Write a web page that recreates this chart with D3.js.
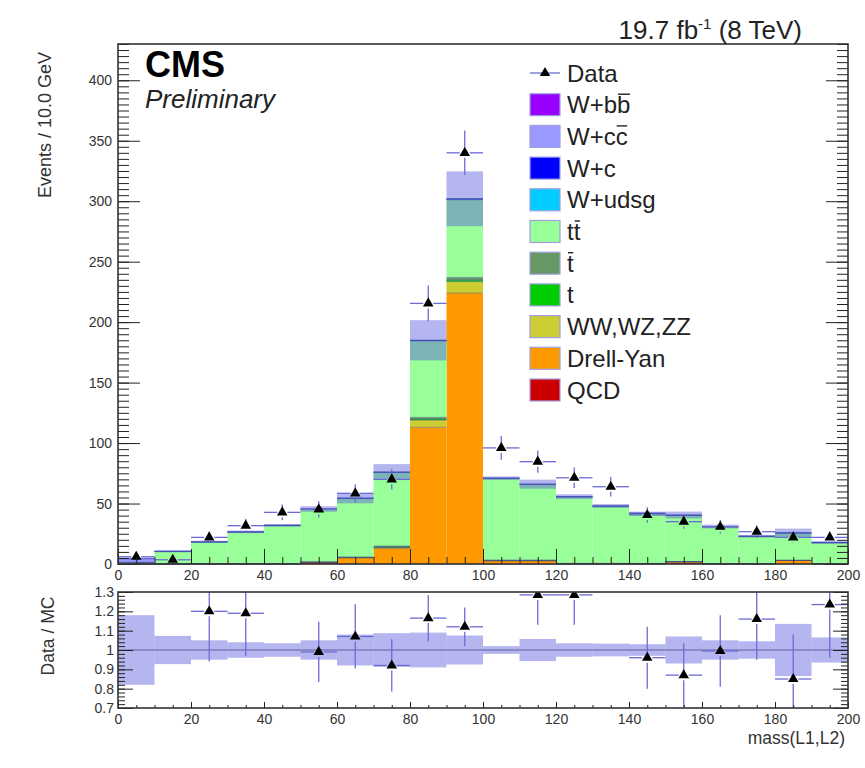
<!DOCTYPE html>
<html>
<head>
<meta charset="utf-8">
<script src="https://cdn.jsdelivr.net/npm/d3@7"></script>
<style>
  body { margin: 0; background: #fff; }
  svg { display: block; font-family: "Liberation Sans", Arial, Helvetica, sans-serif; }
</style>
</head>
<body>
<svg id="chart" width="865" height="768"></svg>
<script>
// ---- binning: mass(L1,L2), 10 GeV bins from 0 to 200 ----
const binLow = [0, 10, 20, 30, 40, 50, 60, 70, 80, 90, 100, 110, 120, 130, 140, 150, 160, 170, 180, 190];
const binWidth = 10;

// ---- observed events and their errors ----
const dataCounts = [6, 3.5, 22, 31.7, 42.7, 45.2, 58.4, 70, 215.5, 340, 96, 84.6, 71.3, 63.9, 40.5, 35, 30.8, 26.7, 22, 22];
const dataErr    = [2.4, 1.9, 4.7, 5.6, 6.5, 6.7, 7.6, 8.4, 14.7, 18.4, 9.8, 9.2, 8.4, 8.0, 6.4, 5.9, 5.5, 5.2, 4.7, 4.7];

// ---- simulated backgrounds (stacked bottom to top) ----
const qcd        = [0, 0, 0, 0, 0, 0.8, 0, 0, 0, 0, 0, 0, 0, 0, 0, 1.0, 0, 0, 0, 0];
const drellYan   = [0, 0, 0, 0, 0, 0.8, 5, 13, 113, 224, 2.5, 2.5, 0, 0, 0, 1.0, 0, 0, 3, 0];
const diboson    = [0, 0, 0, 0, 0, 0, 0.3, 0.5, 6, 9.5, 0.2, 0.2, 0, 0, 0, 0, 0, 0, 0, 0];
const singleTop  = [0, 0, 0, 0, 0, 0, 0.2, 0.4, 0.8, 1.2, 0.2, 0.2, 0.2, 0.2, 0.2, 0, 0, 0, 0, 0];
const singleTbar = [0, 0, 0, 0, 0, 0, 0.4, 1.0, 1.5, 2.3, 0.5, 0.5, 0.4, 0.4, 0.3, 0, 0, 0, 0, 0];
const ttbar      = [1.3, 10.2, 18.0, 26.2, 31.6, 43.5, 48.2, 60.7, 63.0, 64.1, 67.2, 62.2, 54.7, 47.0, 41.1, 38.1, 30.6, 22.6, 22.4, 17.4];
const wUdsg      = [0, 0.3, 0.3, 0.3, 0.3, 0.3, 0.3, 0.3, 0.5, 0.6, 0.3, 0.3, 0.3, 0.3, 0.3, 0.3, 0.3, 0.3, 0.3, 0.3];
const wC         = [0, 0, 0, 0.1, 0.1, 0.1, 0.1, 0.1, 0.2, 0.3, 0.1, 0.1, 0.1, 0.1, 0.1, 0.1, 0.1, 0.1, 0.1, 0.1];
const wCCbar     = [3.2, 0, 0, 0, 0, 0, 0, 0, 0, 0, 0, 0, 0, 0, 0, 0, 0, 0, 0, 0];
const wBBbar     = [0, 0, 0, 0, 0, 0, 0, 0, 0, 0, 0, 0, 0, 0, 0, 0, 0, 0, 0, 0];

// relative uncertainty of the summed simulation, per bin
const mcRelErr = [0.18, 0.073, 0.05, 0.04, 0.035, 0.05, 0.08, 0.087, 0.09, 0.075, 0.02, 0.057, 0.035, 0.033, 0.03, 0.07, 0.05, 0.045, 0.135, 0.065];

// ---- Data / MC ratio ----
const ratioVals = [1.33, 0.33, 1.20, 1.19, 1.33, 0.99, 1.07, 0.92, 1.165, 1.12, 1.35, 1.285, 1.285, 1.33, 0.96, 0.87, 0.995, 1.16, 0.85, 1.235];
const ratioErr  = [0.54, 0.18, 0.26, 0.22, 0.2, 0.156, 0.166, 0.135, 0.12, 0.1, 0.14, 0.155, 0.155, 0.17, 0.16, 0.165, 0.185, 0.21, 0.23, 0.275];

// ---- axis ticks ----
const xTicks = [0, 20, 40, 60, 80, 100, 120, 140, 160, 180, 200];
const yTicks = [0, 50, 100, 150, 200, 250, 300, 350, 400];
const ratioTicks = [0.7, 0.8, 0.9, 1.0, 1.1, 1.2, 1.3];
const ratioTickLabels = ["0.7", "0.8", "0.9", "1", "1.1", "1.2", "1.3"];

// ---- stack definition (bottom first) ----
const stackDefs = [
  { key: "QCD",        values: qcd,        color: "#cc0000", label: [{ t: "QCD" }] },
  { key: "Drell-Yan",  values: drellYan,   color: "#ff9900", label: [{ t: "Drell-Yan" }] },
  { key: "WW,WZ,ZZ",   values: diboson,    color: "#cccc33", label: [{ t: "WW,WZ,ZZ" }] },
  { key: "t",          values: singleTop,  color: "#00cc00", label: [{ t: "t" }] },
  { key: "tbar",       values: singleTbar, color: "#669966", label: [{ t: "t", bar: true }] },
  { key: "ttbar",      values: ttbar,      color: "#99ff99", label: [{ t: "t" }, { t: "t", bar: true }] },
  { key: "W+udsg",     values: wUdsg,      color: "#00ccff", label: [{ t: "W+udsg" }] },
  { key: "W+c",        values: wC,         color: "#0000ff", label: [{ t: "W+c" }] },
  { key: "W+ccbar",    values: wCCbar,     color: "#9999ff", label: [{ t: "W+c" }, { t: "c", bar: true }] },
  { key: "W+bbbar",    values: wBBbar,     color: "#9900ff", label: [{ t: "W+b" }, { t: "b", bar: true }] }
];

const bandFill = "rgba(90,90,220,0.45)";
const errColor = "#6b6bd6";

const svg = d3.select("#chart");
svg.append("rect").attr("width", 865).attr("height", 768).attr("fill", "#fff");

// ---- scales ----
const x = d3.scaleLinear().domain([0, 200]).range([118, 848]);
const y = d3.scaleLinear().domain([0, 430]).range([564, 44]);
const yr = d3.scaleLinear().domain([0.7, 1.3]).range([708, 592]);

// ---- stacked histogram ----
const rows = binLow.map((lo, i) => {
  const r = { lo };
  stackDefs.forEach(s => r[s.key] = s.values[i]);
  return r;
});
const stacked = d3.stack().keys(stackDefs.map(s => s.key))(rows);
const mcTotal = binLow.map((_, i) => d3.sum(stackDefs, s => s.values[i]));

const gMain = svg.append("g");
stacked.forEach((layer, k) => {
  gMain.append("g").selectAll("rect").data(layer).join("rect")
    .attr("x", d => x(d.data.lo))
    .attr("width", x(binWidth) - x(0))
    .attr("y", d => y(d[1]))
    .attr("height", d => Math.max(0, y(d[0]) - y(d[1])))
    .attr("fill", stackDefs[k].color);
});
// histogram outlines
stacked.forEach(layer => {
  gMain.append("g").selectAll("line").data(layer).join("line")
    .attr("x1", d => x(d.data.lo)).attr("x2", d => x(d.data.lo + binWidth))
    .attr("y1", d => y(d[1])).attr("y2", d => y(d[1]))
    .attr("stroke", "#1f2a80").attr("stroke-opacity", 0.35).attr("stroke-width", 1);
});

// simulation uncertainty band
gMain.append("g").selectAll("rect").data(binLow).join("rect")
  .attr("x", d => x(d)).attr("width", x(binWidth) - x(0))
  .attr("y", (d, i) => y(mcTotal[i] * (1 + mcRelErr[i])))
  .attr("height", (d, i) => y(mcTotal[i] * (1 - mcRelErr[i])) - y(mcTotal[i] * (1 + mcRelErr[i])))
  .attr("fill", bandFill);

// data points with error bars
const tri = d3.symbol().type(d3.symbolTriangle).size(48);
function drawPoints(g, vals, errs, yScale, lo, hi) {
  binLow.forEach((b, i) => {
    const v = vals[i];
    if (v < lo || v > hi) return;
    const cx = x(b + binWidth / 2), cy = yScale(v);
    const eb = g.append("g").attr("stroke", errColor).attr("stroke-width", 1.3);
    eb.append("line").attr("x1", x(b)).attr("x2", cx - 5).attr("y1", cy).attr("y2", cy);
    eb.append("line").attr("x1", cx + 5).attr("x2", x(b + binWidth)).attr("y1", cy).attr("y2", cy);
    eb.append("line").attr("x1", cx).attr("x2", cx).attr("y1", yScale(v + errs[i])).attr("y2", cy - 5);
    eb.append("line").attr("x1", cx).attr("x2", cx).attr("y1", cy + 5).attr("y2", yScale(v - errs[i]));
    g.append("path").attr("d", tri).attr("transform", `translate(${cx},${cy})`).attr("fill", "#000");
  });
}
drawPoints(gMain, dataCounts, dataErr, y, 0, 430);

// ---- main frame & axes ----
const axisStyle = g => {
  g.selectAll(".domain").remove();
  g.selectAll("line").attr("stroke", "#222").attr("stroke-width", 1);
  g.selectAll("text").attr("fill", "#333").attr("font-size", 14)
    .attr("font-family", "Liberation Sans, Arial, sans-serif");
};
const range = (a, b, s) => d3.range(a, b + s / 2, s);

svg.append("g").attr("transform", "translate(0,564)")
  .call(d3.axisBottom(x).tickValues(range(0, 200, 5)).tickSizeInner(-7).tickSizeOuter(0).tickFormat(""))
  .call(axisStyle);
svg.append("g").attr("transform", "translate(0,564)")
  .call(d3.axisBottom(x).tickValues(xTicks).tickSizeInner(-15).tickSizeOuter(0).tickPadding(6).tickFormat(d3.format("d")))
  .call(axisStyle);
svg.append("g").attr("transform", "translate(118,0)")
  .call(d3.axisLeft(y).tickValues(range(0, 430, 5)).tickSizeInner(-11).tickSizeOuter(0).tickFormat(""))
  .call(axisStyle);
svg.append("g").attr("transform", "translate(118,0)")
  .call(d3.axisLeft(y).tickValues(yTicks).tickSizeInner(-22).tickSizeOuter(0).tickPadding(6).tickFormat(d3.format("d")))
  .call(axisStyle);
svg.append("g").attr("transform", "translate(848,0)")
  .call(d3.axisRight(y).tickValues(range(0, 430, 5)).tickSizeInner(-11).tickSizeOuter(0).tickFormat(""))
  .call(axisStyle);
svg.append("g").attr("transform", "translate(848,0)")
  .call(d3.axisRight(y).tickValues(yTicks).tickSizeInner(-22).tickSizeOuter(0).tickFormat(""))
  .call(axisStyle);
svg.append("rect").attr("x", 118).attr("y", 44).attr("width", 730).attr("height", 520)
  .attr("fill", "none").attr("stroke", "#333").attr("stroke-width", 1.6);

// ---- ratio panel ----
svg.append("clipPath").attr("id", "ratioClip").append("rect")
  .attr("x", 118).attr("y", 592).attr("width", 730).attr("height", 116);
const gRatio = svg.append("g").attr("clip-path", "url(#ratioClip)");
gRatio.append("g").selectAll("rect").data(binLow).join("rect")
  .attr("x", d => x(d)).attr("width", x(binWidth) - x(0))
  .attr("y", (d, i) => yr(1 + mcRelErr[i]))
  .attr("height", (d, i) => yr(1 - mcRelErr[i]) - yr(1 + mcRelErr[i]))
  .attr("fill", bandFill);
gRatio.append("line").attr("x1", x(0)).attr("x2", x(200)).attr("y1", yr(1)).attr("y2", yr(1))
  .attr("stroke", "#3a3a7a").attr("stroke-opacity", 0.7).attr("stroke-width", 1);
drawPoints(gRatio, ratioVals, ratioErr, yr, 0.7, 1.3);

svg.append("g").attr("transform", "translate(0,708)")
  .call(d3.axisBottom(x).tickValues(range(0, 200, 5)).tickSizeInner(-3).tickSizeOuter(0).tickFormat(""))
  .call(axisStyle);
svg.append("g").attr("transform", "translate(0,708)")
  .call(d3.axisBottom(x).tickValues(xTicks).tickSizeInner(-6).tickSizeOuter(0).tickPadding(6).tickFormat(d3.format("d")))
  .call(axisStyle);
const rMinor = range(0.7, 1.3, 0.02);
svg.append("g").attr("transform", "translate(118,0)")
  .call(d3.axisLeft(yr).tickValues(rMinor).tickSizeInner(-7).tickSizeOuter(0).tickFormat(""))
  .call(axisStyle);
svg.append("g").attr("transform", "translate(118,0)")
  .call(d3.axisLeft(yr).tickValues(ratioTicks).tickSizeInner(-15).tickSizeOuter(0).tickPadding(4)
    .tickFormat((d, i) => ratioTickLabels[i]))
  .call(axisStyle);
svg.append("g").attr("transform", "translate(848,0)")
  .call(d3.axisRight(yr).tickValues(rMinor).tickSizeInner(-7).tickSizeOuter(0).tickFormat(""))
  .call(axisStyle);
svg.append("g").attr("transform", "translate(848,0)")
  .call(d3.axisRight(yr).tickValues(ratioTicks).tickSizeInner(-15).tickSizeOuter(0).tickFormat(""))
  .call(axisStyle);
svg.append("rect").attr("x", 118).attr("y", 592).attr("width", 730).attr("height", 116)
  .attr("fill", "none").attr("stroke", "#333").attr("stroke-width", 1.6);

// ---- titles ----
svg.append("text").attr("transform", "translate(51,52) rotate(-90)")
  .attr("text-anchor", "end").attr("font-size", 18).attr("fill", "#333").text("Events / 10.0 GeV");
svg.append("text").attr("transform", "translate(54,636) rotate(-90)")
  .attr("text-anchor", "middle").attr("font-size", 17.5).attr("fill", "#333").text("Data / MC");
svg.append("text").attr("x", 845).attr("y", 744).attr("text-anchor", "end")
  .attr("font-size", 17.5).attr("fill", "#333").text("mass(L1,L2)");

svg.append("text").attr("x", 145).attr("y", 77).attr("font-size", 36).attr("font-weight", "bold")
  .attr("fill", "#000").text("CMS");
svg.append("text").attr("x", 145).attr("y", 108).attr("font-size", 26).attr("font-style", "italic")
  .attr("fill", "#222").text("Preliminary");

const lumi = svg.append("text").attr("x", 802).attr("y", 39).attr("text-anchor", "end")
  .attr("font-size", 26).attr("fill", "#222");
lumi.append("tspan").text("19.7 fb");
lumi.append("tspan").attr("dy", -10).attr("font-size", 15).text("-1");
lumi.append("tspan").attr("dy", 10).text(" (8 TeV)");

// ---- legend ----
const legendItems = [{ key: "Data" }].concat(stackDefs.slice().reverse());
const legY0 = 73, legDy = 31.7;
const legFont = 24;
const gLeg = svg.append("g");
legendItems.forEach((item, i) => {
  const cy = legY0 + i * legDy;
  if (item.key === "Data") {
    gLeg.append("line").attr("x1", 530).attr("x2", 560).attr("y1", cy).attr("y2", cy)
      .attr("stroke", errColor).attr("stroke-width", 1.3);
    gLeg.append("path").attr("d", tri).attr("transform", `translate(545,${cy})`).attr("fill", "#000");
    gLeg.append("text").attr("x", 567).attr("y", cy + 8.5).attr("font-size", legFont).attr("fill", "#222").text("Data");
    return;
  }
  gLeg.append("rect").attr("x", 530).attr("y", cy - 11).attr("width", 30).attr("height", 22)
    .attr("fill", item.color).attr("stroke", "#a0a0e0").attr("stroke-width", 1.2);
  const txt = gLeg.append("text").attr("x", 567).attr("y", cy + 8.5).attr("font-size", legFont).attr("fill", "#222");
  item.label.forEach(p => txt.append("tspan").text(p.t));
  // overlines for anti-particles
  let idx = 0;
  item.label.forEach(p => {
    if (p.bar) {
      const n = txt.node();
      const s = n.getStartPositionOfChar(idx), e = n.getEndPositionOfChar(idx + p.t.length - 1);
      gLeg.append("line").attr("x1", s.x + 1).attr("x2", e.x - 0.5)
        .attr("y1", cy - 10.5).attr("y2", cy - 10.5).attr("stroke", "#222").attr("stroke-width", 1.4);
    }
    idx += p.t.length;
  });
});
</script>
</body>
</html>
